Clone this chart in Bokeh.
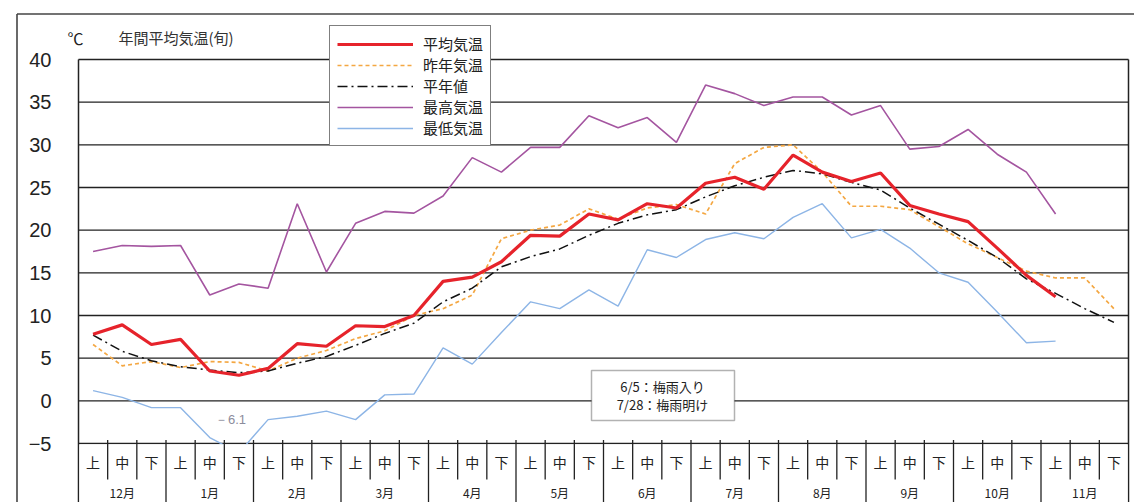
from bokeh.plotting import figure
from bokeh.models import (ColumnDataSource, Range1d, LinearAxis, FixedTicker,
                          Legend, LegendItem, Label, BoxAnnotation)
from bokeh.embed import file_html
from bokeh.resources import INLINE
from bokeh.core.properties import value

NaN = float("nan")

# ---------------- data ----------------
months = ["12月", "1月", "2月", "3月", "4月", "5月", "6月", "7月", "8月", "9月", "10月", "11月"]
dekads = ["上", "中", "下"]

mean_temp = [7.8, 8.9, 6.6, 7.2, 3.5, 3.0, 3.8, 6.7, 6.4, 8.8, 8.7, 10.0,
             14.0, 14.5, 16.3, 19.4, 19.3, 21.9, 21.2, 23.1, 22.6, 25.5, 26.2, 24.8,
             28.8, 26.8, 25.7, 26.7, 22.9, 21.9, 21.0, 17.9, 14.7, 12.2, NaN, NaN]
last_year = [6.6, 4.1, 4.6, 3.9, 4.6, 4.5, 3.5, 5.0, 5.9, 7.3, 8.2, 10.0,
             10.8, 12.4, 19.0, 20.0, 20.6, 22.5, 21.3, 22.6, 23.0, 21.9, 27.8, 29.7,
             30.0, 26.8, 22.8, 22.8, 22.4, 20.4, 18.4, 16.8, 15.2, 14.4, 14.4, 10.8]
normal = [7.7, 5.8, 4.7, 4.0, 3.6, 3.3, 3.5, 4.4, 5.2, 6.5, 7.9, 9.1,
          11.6, 13.2, 15.7, 16.9, 17.8, 19.4, 20.8, 21.8, 22.4, 23.9, 25.2, 26.2,
          27.0, 26.6, 25.6, 24.7, 22.6, 20.7, 18.8, 16.8, 14.3, 12.6, 10.8, 9.2]
max_temp = [17.5, 18.2, 18.1, 18.2, 12.4, 13.7, 13.2, 23.1, 15.1, 20.8, 22.2, 22.0,
            24.0, 28.5, 26.8, 29.7, 29.7, 33.4, 32.0, 33.2, 30.3, 37.0, 36.0, 34.6,
            35.6, 35.6, 33.5, 34.6, 29.5, 29.8, 31.8, 28.9, 26.8, 21.9, NaN, NaN]
min_temp = [1.2, 0.4, -0.8, -0.8, -4.3, -6.1, -2.2, -1.8, -1.2, -2.2, 0.7, 0.8,
            6.2, 4.3, 8.0, 11.6, 10.8, 13.0, 11.1, 17.7, 16.8, 18.9, 19.7, 19.0,
            21.5, 23.1, 19.1, 20.1, 17.9, 15.0, 13.9, 10.4, 6.8, 7.0, NaN, NaN]
y_ticks = [-5, 0, 5, 10, 15, 20, 25, 30, 35, 40]
min_note = "－6.1"
rain_notes = ["6/5：梅雨入り", "7/28：梅雨明け"]

n = len(months) * len(dekads)
xs = [i + 0.5 for i in range(n)]
src = ColumnDataSource(dict(x=xs, mean=mean_temp, last=last_year, normal=normal,
                            tmax=max_temp, tmin=min_temp))

JP = "Noto Sans CJK JP"
INK = "#222222"

# ---------------- geometry (screenshot pixels) ----------------
ORG = -1                      # where the figure's top-left lands in the screenshot
FRAME_L, FRAME_R, FRAME_T, FRAME_B = 13, 1133, 10, 501
W, H = FRAME_R - ORG, FRAME_B - ORG
AX_L, AX_R, Y40, YM5 = 77, 1127, 58, 442
dx = (AX_R - AX_L) / n
dy = (YM5 - Y40) / 45.0


def xpx(X):
    return (X - AX_L) / dx


def ypx(Y):
    return -5 + (YM5 - Y) / dy


x_start, x_end = xpx(FRAME_L), xpx(FRAME_R)
y_start, y_end = ypx(FRAME_B), ypx(FRAME_T)

p = figure(width=W, height=H, x_range=Range1d(x_start, x_end), y_range=Range1d(y_start, y_end),
           x_axis_location=None, y_axis_location=None, output_backend="svg",
           toolbar_location=None, min_border_left=FRAME_L - ORG, min_border_right=0,
           min_border_top=FRAME_T - ORG, min_border_bottom=0,
           background_fill_color="white", border_fill_color="white")
p.outline_line_color = None
p.grid.visible = False

# outer frame of the figure (top and left edges)
p.segment(x0=[xpx(15.5), xpx(15.5)], x1=[x_end, xpx(15.5)],
          y0=[ypx(12.5), ypx(12.5)], y1=[ypx(12.5), y_start],
          line_color="#444444", line_width=1.6)

# grid lines across the plotting area
p.segment(x0=[0] * len(y_ticks), x1=[n] * len(y_ticks), y0=y_ticks, y1=y_ticks,
          line_color=INK, line_width=1.3)
# right border of the plotting area / table
p.segment(x0=[n], x1=[n], y0=[y_start], y1=[40], line_color=INK, line_width=1.5)

ya = LinearAxis(fixed_location=0, ticker=FixedTicker(ticks=y_ticks), bounds=(y_start, 40),
                major_tick_line_color=None, minor_tick_line_color=None,
                axis_line_color=INK, axis_line_width=1.5,
                major_label_text_font="Liberation Sans", major_label_text_font_size="20px",
                major_label_text_color=INK, major_label_standoff=21,
                major_label_overrides={-5: "−5"})
p.add_layout(ya, "left")

r_max = p.line("x", "tmax", source=src, line_color="#a455a0", line_width=1.6)
r_min = p.line("x", "tmin", source=src, line_color="#8db5e6", line_width=1.4)
r_last = p.line("x", "last", source=src, line_color="#f4a742", line_width=1.7, line_dash="4 3")
r_norm = p.line("x", "normal", source=src, line_color="#111111", line_width=1.5,
                line_dash="10 4 2 4")
r_mean = p.line("x", "mean", source=src, line_color="#e6232b", line_width=3.2)

# hide whatever falls below the -5 line (table area)
p.add_layout(BoxAnnotation(top=ypx(YM5 + 0.8), left=0.03, right=n - 0.03,
                           fill_color="white", fill_alpha=1.0, line_color=None))

legend = Legend(items=[LegendItem(label="平均気温", renderers=[r_mean]),
                       LegendItem(label="昨年気温", renderers=[r_last]),
                       LegendItem(label="平年値", renderers=[r_norm]),
                       LegendItem(label="最高気温", renderers=[r_max]),
                       LegendItem(label="最低気温", renderers=[r_min])],
                location=(328 - FRAME_L, FRAME_B - 145), orientation="vertical",
                label_text_font=JP, label_text_font_size="15px", label_text_color=INK,
                glyph_width=76, glyph_height=20, label_height=20, spacing=0,
                padding=7, margin=0, label_standoff=10,
                border_line_color="black", border_line_width=1.4,
                background_fill_color="white", background_fill_alpha=1.0)
p.add_layout(legend)

p.add_layout(Label(x=xpx(66), y=ypx(36), text="℃", text_font=JP, text_font_size="16px",
                   text_color=INK, text_align="left", text_baseline="middle"))
p.add_layout(Label(x=xpx(117), y=ypx(36), text="年間平均気温(旬)", text_font=JP,
                   text_font_size="15px", text_color="#333333", text_align="left",
                   text_baseline="middle"))
p.add_layout(Label(x=xpx(229), y=ypx(418), text=min_note, text_font="Liberation Sans",
                   text_font_size="13px", text_color="#8c8c9c", text_align="center",
                   text_baseline="middle"))

p.add_layout(BoxAnnotation(left=xpx(590), right=xpx(733), bottom=ypx(419), top=ypx(369),
                           fill_color="white", fill_alpha=1.0, line_color="black",
                           line_width=1.5))
p.add_layout(Label(x=xpx(661), y=ypx(385), text=rain_notes[0], text_font=JP,
                   text_font_size="13px", text_color=INK, text_align="center",
                   text_baseline="middle"))
p.add_layout(Label(x=xpx(661), y=ypx(403), text=rain_notes[1], text_font=JP,
                   text_font_size="13px", text_color=INK, text_align="center",
                   text_baseline="middle"))

# ---------------- x-axis table (drawn above the masking box) ----------------
bx = list(range(1, n))
by0 = [y_start if k % len(dekads) == 0 else ypx(478) for k in bx]
p.segment(x0=bx, x1=bx, y0=by0, y1=[ypx(438.5)] * len(bx), line_color=INK, line_width=1.3,
          level="overlay")
p.text(x=xs, y=[ypx(460)] * n, text=[dekads[i % 3] for i in range(n)], text_font=value(JP),
       text_font_size="14px", text_color=INK, text_align="center", text_baseline="middle",
       level="overlay")
p.text(x=[3 * m + 1.5 for m in range(len(months))], y=[ypx(491)] * len(months), text=months,
       text_font=value(JP), text_font_size="12px", text_color=INK, text_align="center",
       text_baseline="middle", level="overlay")

open("out.html", "w").write(file_html(p, INLINE))
